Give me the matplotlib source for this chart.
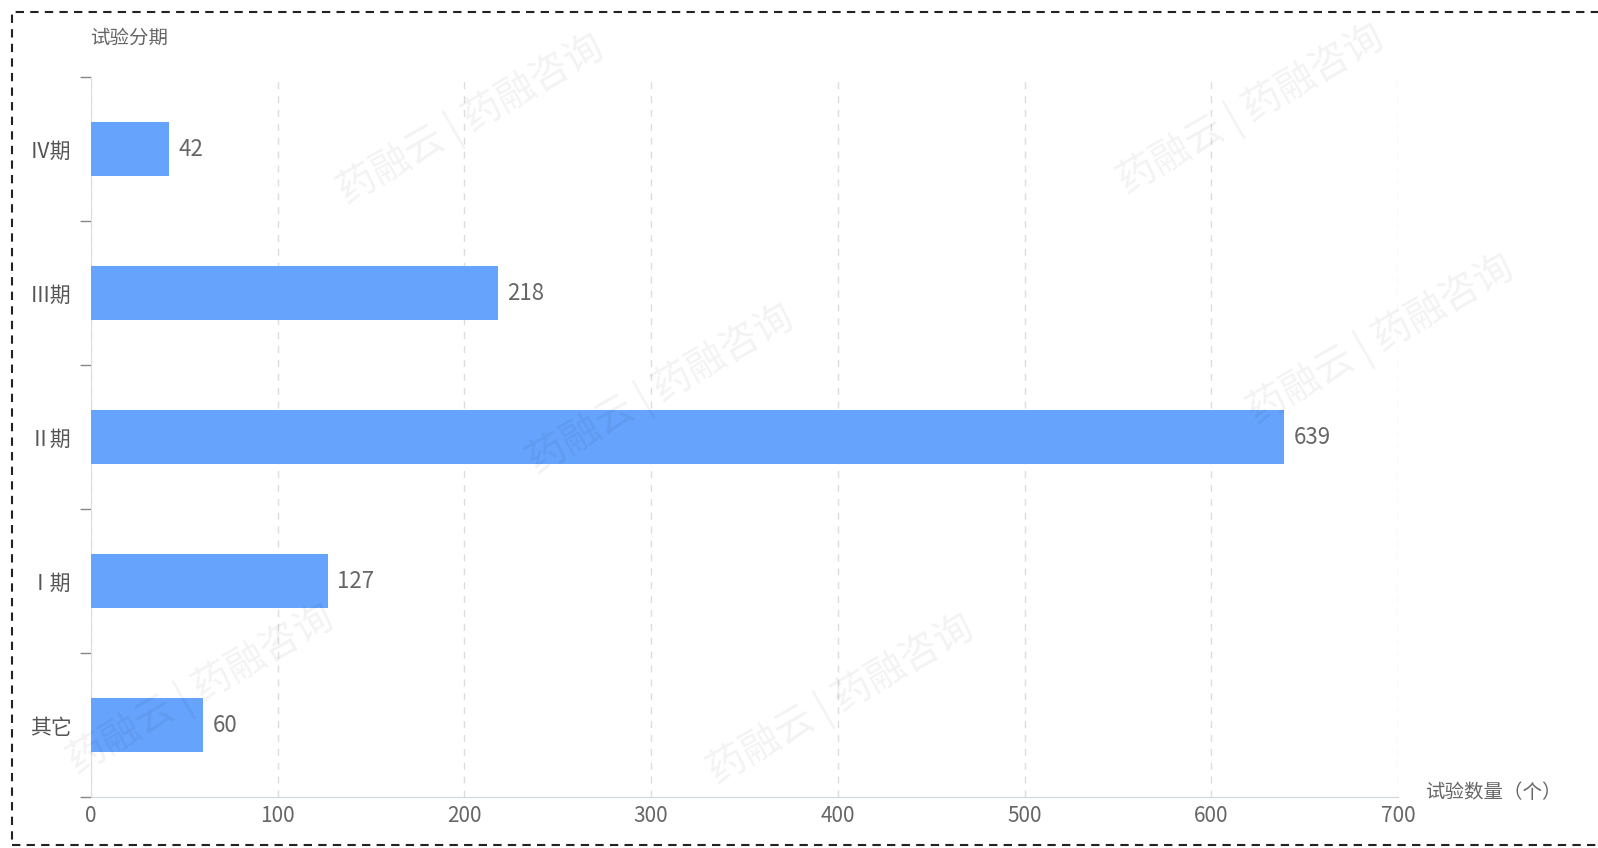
import matplotlib
matplotlib.use("Agg")
from matplotlib import pyplot as plt
from matplotlib.patches import Rectangle

plt.rcParams['font.family'] = ['Noto Sans CJK SC', 'DejaVu Sans']

# data (bottom to top)
phases = ["其它", "Ⅰ期", "Ⅱ期", "Ⅲ期", "Ⅳ期"]
counts = [60, 127, 639, 218, 42]
x_ticks = [0, 100, 200, 300, 400, 500, 600, 700]

bar_color = "#66a3fc"
text_color = "#666666"

fig = plt.figure(figsize=(15.98, 8.48), dpi=100)
ax = fig.add_axes([91/1598, 51/848, (1398-91)/1598, (797-77)/848])

pos = list(range(len(phases)))
ax.barh(pos, counts, height=0.375, color=bar_color, zorder=3)
for p, c in zip(pos, counts):
    ax.text(c + 5, p, str(c), va="center", ha="left", fontsize=16, color=text_color)

ax.set_xlim(0, 700)
ax.set_ylim(-0.5, len(phases) - 0.5)
ax.set_xticks(x_ticks)
ax.set_xticklabels([str(t) for t in x_ticks], fontsize=15, color=text_color)
ax.set_yticks(pos)
ax.set_yticklabels(phases, fontsize=15, color="#555555")
ax.tick_params(axis="y", length=0, pad=14)
ax.tick_params(axis="x", length=0, pad=6)
# y ticks at band edges
ax.set_yticks([p - 0.5 for p in range(len(phases) + 1)], minor=True)
ax.tick_params(axis="y", which="minor", length=8, color="#888888", width=1)

ax.grid(axis="x", linestyle=(0, (5, 5)), color="#dddddd", linewidth=1, zorder=0)
for s in ["top", "right"]:
    ax.spines[s].set_visible(False)
ax.spines["left"].set_color("#d8dde6")
ax.spines["bottom"].set_color("#ccd6e0")

fig.text(90/1598, 1 - 38/848, "试验分期", fontsize=14, color=text_color, va="center", ha="left")
fig.text(1425/1598, 1 - 793/848, "试验数量（个）", fontsize=14, color=text_color, va="center", ha="left")

# faint watermarks
marks = [(330, 120), (1110, 110), (520, 390), (700, 700), (1240, 340), (60, 690)]
for mx, my in marks:
    fig.text(mx/1598, 1 - my/848, "药融云 | 药融咨询", fontsize=28, color="#000000", alpha=0.05,
             rotation=30, ha="left", va="center")

# dashed frame
fig.patches.append(Rectangle((12/1598, 1 - 845/848), 1.0, (845-12)/848, transform=fig.transFigure,
                             fill=False, edgecolor="#222222", linestyle=(0, (4, 3)), linewidth=1.5))

fig.savefig("out.png", dpi=100)
